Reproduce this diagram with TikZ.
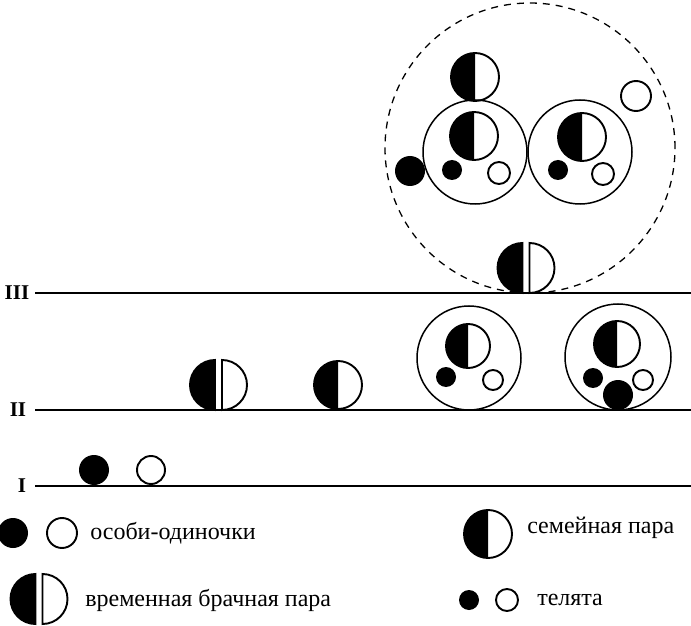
\documentclass[tikz,border=0pt]{standalone}
\usepackage{fontspec}
\setmainfont{Liberation Serif}
\usetikzlibrary{positioning}

\tikzset{
  adultf/.style = {circle, fill, inner sep=0pt, minimum size=#1},
  adulto/.style = {circle, draw, inner sep=0pt, minimum size=#1},
  group/.style  = {circle, draw, line width=1.5pt, inner sep=0pt, minimum size=#1},
  herd/.style   = {circle, draw, dash pattern=on 7pt off 6pt,
                   line width=1.3pt, inner sep=0pt, minimum size=#1},
  level/.style  = {line width=1.5pt},
  lvlabel/.style = {font=\fontsize{21}{22}\selectfont\bfseries},
  legtext/.style = {anchor=west, font=\fontsize{24}{26}\selectfont},
  pics/fampair/.style = {code={
    \fill (0,#1) arc (90:270:#1) -- cycle;
    \draw (0,0) circle (#1);}},
  pics/tmppair/.style = {code={
    \filldraw (-3.5,#1) arc (90:270:#1) -- cycle;
    \draw (3.5,#1) arc (90:-90:#1) -- cycle;}},
}

\begin{document}
\begin{tikzpicture}[x=1pt, y=1pt, line width=1.9pt]
\useasboundingbox (0,0) rectangle (691,625);

%--- levels
\node[lvlabel] (lIII) at (17,332) {III};
\node[lvlabel] (lII)  at (18,215) {II};
\node[lvlabel] (lI)   at (22,139) {I};
\coordinate (eIII) at (691,332);
\coordinate (eII)  at (691,215);
\coordinate (eI)   at (691,139);
\draw[level] (35,332) -- (eIII);
\draw[level] (35,215) -- (eII);
\draw[level] (35,139) -- (eI);

%--- level I: single animals
\node[adultf=30] (s1) at (94,155) {};
\node[adulto=28] (s2) at (151,155) {};

%--- level II
\pic (tp1) at (218.5,240) {tmppair=25};
\pic (fp1) at (338,240) {fampair=24};

\node[group=104] (g1) at (469,267) {};
\pic (fp2) at (468,279) {fampair=22};
\node[adultf=20] (c1) at (446,248) {};
\node[adulto=20] (c2) at (493,245) {};

\node[group=106] (g2) at (618,268) {};
\pic (fp3) at (617,281) {fampair=23};
\node[adultf=20] (c3) at (593,247) {};
\node[adulto=20] (c4) at (643,245) {};
\node[adultf=30] (s3) at (618,230) {};

%--- level III: herd
\node[herd=290] (herd) at (530,477) {};
\pic (tp2) at (526,357) {tmppair=25};
\pic (fp4) at (475,548) {fampair=24};
\node[adulto=30] (s4) at (636,529) {};

\node[group=104] (g3) at (475,473) {};
\pic (fp5) at (474,489) {fampair=24};
\node[adultf=20] (c5) at (452,455) {};
\node[adulto=22] (c6) at (499,452) {};

\node[group=104] (g4) at (580,473) {};
\pic (fp6) at (582,488) {fampair=24};
\node[adultf=20] (c7) at (558,455) {};
\node[adulto=22] (c8) at (603,451) {};

\node[adultf=30] (s5) at (410,454) {};

%--- legend
\node[adultf=30] (ls1) at (13,92) {};
\node[adulto=30] (ls2) at (62,92) {};
\node[legtext] (t1) at (86,92) {особи-одиночки};

\pic (ltp) at (39,26) {tmppair=25};
\node[legtext] (t2) at (81,25) {временная брачная пара};

\pic (lfp) at (488,91) {fampair=24};
\node[legtext] (t3) at (523,97) {семейная пара};

\node[adultf=20] (lc1) at (469,25) {};
\node[adulto=22] (lc2) at (507,25) {};
\node[legtext] (t4) at (533,25) {телята};

\end{tikzpicture}
\end{document}
